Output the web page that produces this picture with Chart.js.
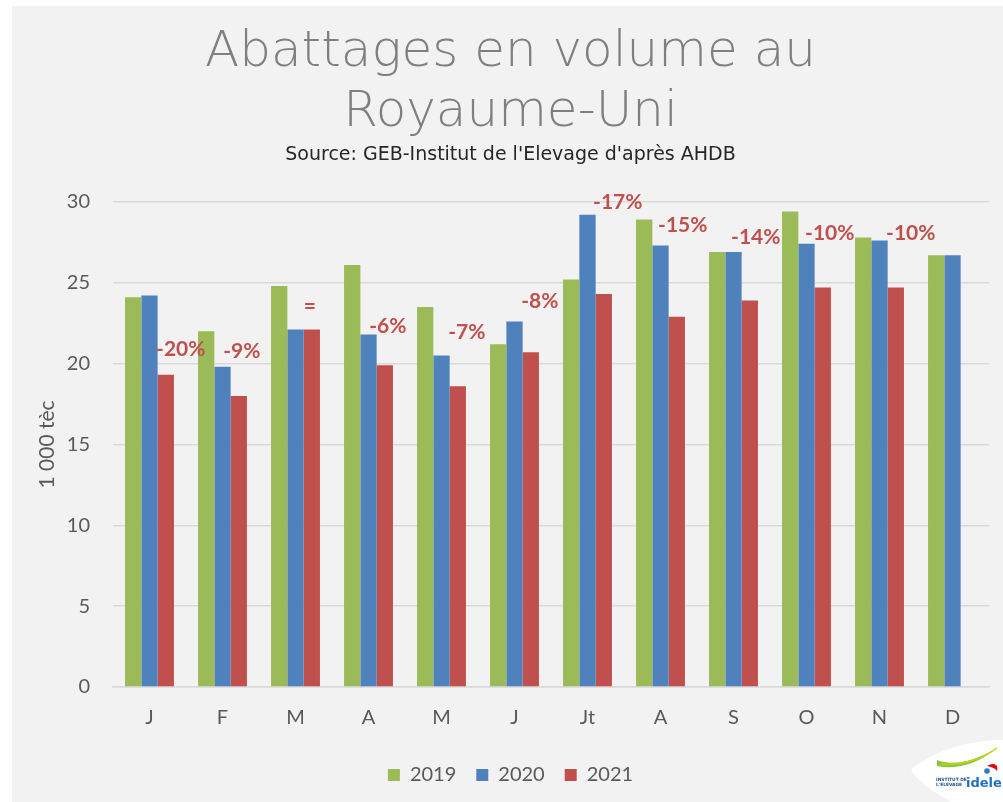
<!DOCTYPE html>
<html lang="fr">
<head>
<meta charset="utf-8">
<title>Abattages en volume au Royaume-Uni</title>
<script src="https://cdn.jsdelivr.net/npm/chart.js@4"></script>
<style>
    html, body { margin: 0; padding: 0; background: #ffffff; }
    #panel {
        position: absolute;
        left: 12px;
        top: 6px;
        width: 991px;
        height: 796px;
        background: #f2f2f2;
    }
    #chart-box { position: absolute; left: 0; top: 0; width: 991px; height: 796px; }
    #logo { position: absolute; right: 0; bottom: 0; width: 92px; height: 62px; }
</style>
</head>
<body>
<div id="panel">
    <div id="chart-box"><canvas id="chart"></canvas></div>
    <svg id="logo" viewBox="0 0 92 62" xmlns="http://www.w3.org/2000/svg">
        <path d="M0 30 C 22 10, 60 0, 92 0 L 92 62 L 40 62 C 22 52, 8 42, 0 30 Z" fill="#ffffff"/>
        <path d="M26 20 C 40 26, 62 22, 82 10 C 68 24, 44 30, 26 26 Z" fill="#8cc63f"/>
        <path d="M30 24 C 48 26, 70 20, 86 8" stroke="#c3d600" stroke-width="1.5" fill="none"/>
        <path d="M76 26 C 82 22, 88 24, 86 31 C 84 28, 80 27, 76 26 Z" fill="#e30613"/>
        <circle cx="76" cy="31" r="2.8" fill="#2b7bbf"/>
        <text x="25" y="41" font-family="DejaVu Sans" font-size="4.4" font-weight="bold" fill="#1d4f91">INSTITUT DE</text>
        <text x="25" y="46" font-family="DejaVu Sans" font-size="4.4" font-weight="bold" fill="#1d4f91">L'ELEVAGE</text>
        <text x="55" y="47" font-family="DejaVu Sans" font-size="13" font-weight="bold" fill="#1f6fbf">idele</text>
    </svg>
</div>
<script>
const months = ['J', 'F', 'M', 'A', 'M', 'J', 'Jt', 'A', 'S', 'O', 'N', 'D'];
const years = ['2019', '2020', '2021'];
const values2019 = [24.1, 22.0, 24.8, 26.1, 23.5, 21.2, 25.2, 28.9, 26.9, 29.4, 27.8, 26.7];
const values2020 = [24.2, 19.8, 22.1, 21.8, 20.5, 22.6, 29.2, 27.3, 26.9, 27.4, 27.6, 26.7];
const values2021 = [19.3, 18.0, 22.1, 19.9, 18.6, 20.7, 24.3, 22.9, 23.9, 24.7, 24.7, null];
const changeLabels = ['-20%', '-9%', '=', '-6%', '-7%', '-8%', '-17%', '-15%', '-14%', '-10%', '-10%', ''];
const yTicks = [0, 5, 10, 15, 20, 25, 30];

// label nudges (px) from the top of the 2021 bar, as placed by hand in the original
const labelNudge = [[15, 26], [3, 45], [-2, 23], [3, 39], [9, 54], [9, 51], [14, 92], [6, 91], [6, 63], [7, 54], [15, 54], [0, 0]];

const colors = ['#9bbb59', '#4f81bd', '#c0504d'];
const baseFont = 'Lato, "DejaVu Sans", sans-serif';

const changeLabelPlugin = {
    id: 'changeLabels',
    afterDatasetsDraw(chart) {
        const ctx = chart.ctx;
        const meta = chart.getDatasetMeta(2);
        ctx.save();
        ctx.font = 'bold 21px ' + baseFont;
        ctx.fillStyle = '#c0504d';
        ctx.textAlign = 'center';
        ctx.textBaseline = 'middle';
        changeLabels.forEach((label, i) => {
            if (!label) return;
            const el = meta.data[i];
            ctx.fillText(label, el.x + labelNudge[i][0], el.y - labelNudge[i][1]);
        });
        ctx.restore();
    }
};

new Chart(document.getElementById('chart'), {
    type: 'bar',
    data: {
        labels: months,
        datasets: [
            { label: years[0], data: values2019, backgroundColor: colors[0] },
            { label: years[1], data: values2020, backgroundColor: colors[1] },
            { label: years[2], data: values2021, backgroundColor: colors[2] }
        ]
    },
    options: {
        responsive: true,
        maintainAspectRatio: false,
        animation: false,
        datasets: {
            bar: { categoryPercentage: 0.67, barPercentage: 1.0 }
        },
        layout: { padding: { top: 17, right: 14, left: 20, bottom: 7 } },
        plugins: {
            title: {
                display: true,
                text: ['Abattages en volume au', 'Royaume-Uni'],
                color: '#7f7f7f',
                font: { family: '"DejaVu Sans", Lato, sans-serif', size: 50, weight: '200', lineHeight: 1.2 },
                padding: { top: 0, bottom: 0 }
            },
            subtitle: {
                display: true,
                text: "Source: GEB-Institut de l'Elevage d'après AHDB",
                color: '#262626',
                font: { family: '"DejaVu Sans", sans-serif', size: 19 },
                padding: { top: 1, bottom: 35 }
            },
            legend: {
                position: 'bottom',
                labels: {
                    color: '#595959',
                    font: { family: baseFont, size: 20 },
                    boxWidth: 12,
                    boxHeight: 12,
                    padding: 20
                }
            },
            tooltip: { enabled: false }
        },
        scales: {
            x: {
                afterFit(scale) { scale.height = 58; },
                grid: { display: false },
                border: { display: true, color: '#d9d9d9', width: 1.5 },
                ticks: { color: '#595959', font: { family: baseFont, size: 20 }, padding: 11 }
            },
            y: {
                min: 0,
                max: 30,
                afterBuildTicks(scale) {
                    scale.ticks = yTicks.map(v => ({ value: v }));
                },
                afterFit(scale) { scale.width = 81; },
                grid: { color: '#d9d9d9', lineWidth: 1.5, drawTicks: false },
                border: { display: false },
                ticks: { color: '#595959', font: { family: baseFont, size: 20 }, padding: 23 },
                title: {
                    display: true,
                    text: '1 000 tèc',
                    color: '#595959',
                    font: { family: baseFont, size: 21 },
                    padding: { top: 3, bottom: 0 }
                }
            }
        }
    },
    plugins: [changeLabelPlugin]
});
</script>
</body>
</html>
